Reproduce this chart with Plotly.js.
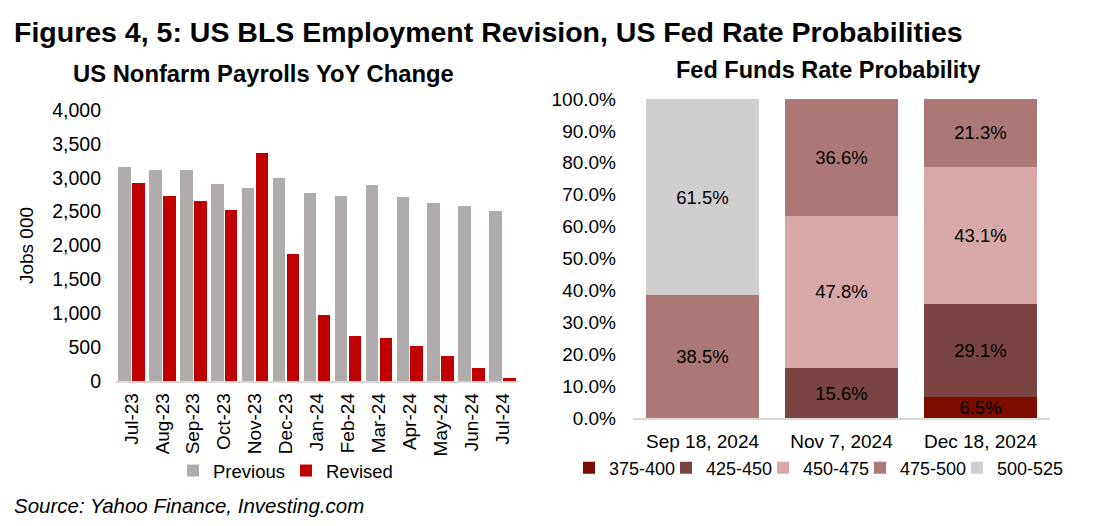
<!DOCTYPE html>
<html>
<head>
<meta charset="utf-8">
<script src="https://cdn.plot.ly/plotly-3.0.1.min.js"></script>
<style>html,body{margin:0;padding:0;background:#fff;}#chart{width:1094px;height:526px;}</style>
</head>
<body>
<div id="chart"></div>
<script>
// ---- Left chart data ----
const months = ["Jul-23","Aug-23","Sep-23","Oct-23","Nov-23","Dec-23","Jan-24","Feb-24","Mar-24","Apr-24","May-24","Jun-24","Jul-24"];
const previous = [3160, 3120, 3120, 2915, 2850, 2995, 2775, 2730, 2890, 2710, 2625, 2590, 2505];
const revised  = [2920, 2735, 2650, 2530, 3360, 1880, 980, 660, 640, 515, 370, 190, 50];
const leftTicks = [0, 500, 1000, 1500, 2000, 2500, 3000, 3500, 4000];

// ---- Right chart data ----
const meetings = ["Sep 18, 2024", "Nov 7, 2024", "Dec 18, 2024"];
const rateBands = ["375-400", "425-450", "450-475", "475-500", "500-525"];
const prob375_400 = [0, 0, 6.5];
const prob425_450 = [0, 15.6, 29.1];
const prob450_475 = [0, 47.8, 43.1];
const prob475_500 = [38.5, 36.6, 21.3];
const prob500_525 = [61.5, 0, 0];
const bandValues = [prob375_400, prob425_450, prob450_475, prob475_500, prob500_525];
const bandColors = ["#7b0c00", "#7a4442", "#d8a8a8", "#ac7876", "#d0cecf"];
const rightTicks = [0, 10, 20, 30, 40, 50, 60, 70, 80, 90, 100];
const rightTickText = rightTicks.map(v => v.toFixed(1) + "%");

const W = 1094, H = 526;
const px = v => v / W;
const py = v => (H - v) / H;
const FONT = "Liberation Sans, Arial, sans-serif";

// horizontal placement of the five legend entries under the right chart (px)
const bandLegendX = [569, 666, 763, 860, 957];

const traces = [
  {type: "bar", name: "Previous", x: months, y: previous, xaxis: "x", yaxis: "y",
   offsetgroup: "prev", marker: {color: "#afacab"}, legend: "legend",
   hovertemplate: "%{x}: %{y}<extra></extra>"},
  {type: "bar", name: "Revised", x: months, y: revised, xaxis: "x", yaxis: "y",
   offsetgroup: "rev", marker: {color: "#c00000"}, legend: "legend",
   hovertemplate: "%{x}: %{y}<extra></extra>"}
];

rateBands.forEach((band, i) => {
  const vals = bandValues[i];
  traces.push({
    type: "bar", name: band, x: meetings, y: vals, xaxis: "x2", yaxis: "y2",
    marker: {color: bandColors[i]},
    legend: "legend" + (i + 2),
    text: vals.map(v => v > 0 ? v.toFixed(1) + "%" : ""),
    texttemplate: "%{text}",
    textposition: "inside", insidetextanchor: "middle", constraintext: "none",
    textangle: 0,
    textfont: {family: FONT, size: 18.5, color: "#000"},
    hovertemplate: band + ": %{y:.1f}%<extra></extra>"
  });
});

const legendBase = {
  orientation: "h", yanchor: "middle", xanchor: "left",
  font: {size: 18.5}, bgcolor: "rgba(0,0,0,0)", itemclick: false, itemdoubleclick: false,
  traceorder: "normal", itemwidth: 30
};

const layout = {
  width: W, height: H,
  margin: {l: 0, r: 0, t: 0, b: 0},
  paper_bgcolor: "#fff", plot_bgcolor: "#fff",
  font: {family: FONT, size: 18, color: "#000"},
  barmode: "stack",
  bargap: 0.1, bargroupgap: 0.1,
  showlegend: true,
  xaxis: {
    domain: [px(116), px(518)], anchor: "y",
    tickangle: -90, showgrid: false, zeroline: false,
    showline: true, linecolor: "#d9d9d9", linewidth: 1.5,
    ticks: "", tickfont: {size: 19}, ticklabelstandoff: 3, fixedrange: true
  },
  yaxis: {
    domain: [py(381), py(110)], anchor: "x",
    range: [0, 4000], tickvals: leftTicks,
    tickformat: ",", showgrid: false, zeroline: false, showline: false,
    ticks: "", ticklabelstandoff: 14, tickfont: {size: 19.5},
    title: {text: "Jobs 000", font: {size: 19}, standoff: 13}, fixedrange: true
  },
  xaxis2: {
    domain: [px(633), px(1050)], anchor: "y2",
    showgrid: false, zeroline: false, showline: true, linecolor: "#d9d9d9", linewidth: 1.5,
    ticks: "", tickfont: {size: 19}, ticklabelstandoff: 6, fixedrange: true
  },
  yaxis2: {
    domain: [py(418), py(99)], anchor: "x2",
    range: [0, 100], tickvals: rightTicks, ticktext: rightTickText,
    showgrid: false, zeroline: false, showline: false,
    ticks: "", ticklabelstandoff: 16, tickfont: {size: 19}, fixedrange: true
  },
  legend: Object.assign({}, legendBase, {x: px(173), y: py(471), entrywidth: 68}),
  annotations: [
    {text: "<b>Figures 4, 5: US BLS Employment Revision, US Fed Rate Probabilities</b>",
     xref: "paper", yref: "paper", x: px(12), y: py(32), xanchor: "left", yanchor: "middle",
     showarrow: false, font: {size: 28.5, color: "#000"}},
    {text: "<b>US Nonfarm Payrolls YoY Change</b>",
     xref: "paper", yref: "paper", x: px(263), y: py(74), xanchor: "center", yanchor: "middle",
     showarrow: false, font: {size: 23.8, color: "#000"}},
    {text: "<b>Fed Funds Rate Probability</b>",
     xref: "paper", yref: "paper", x: px(828), y: py(70), xanchor: "center", yanchor: "middle",
     showarrow: false, font: {size: 23.5, color: "#000"}},
    {text: "<i>Source: Yahoo Finance, Investing.com</i>",
     xref: "paper", yref: "paper", x: px(12), y: py(505), xanchor: "left", yanchor: "middle",
     showarrow: false, font: {size: 20.5, color: "#000"}}
  ]
};

bandLegendX.forEach((lx, i) => {
  layout["legend" + (i + 2)] = Object.assign({}, legendBase, {x: px(lx), y: py(468), font: {size: 18}});
});

Plotly.newPlot("chart", traces, layout, {displayModeBar: false, staticPlot: true});
</script>
</body>
</html>
